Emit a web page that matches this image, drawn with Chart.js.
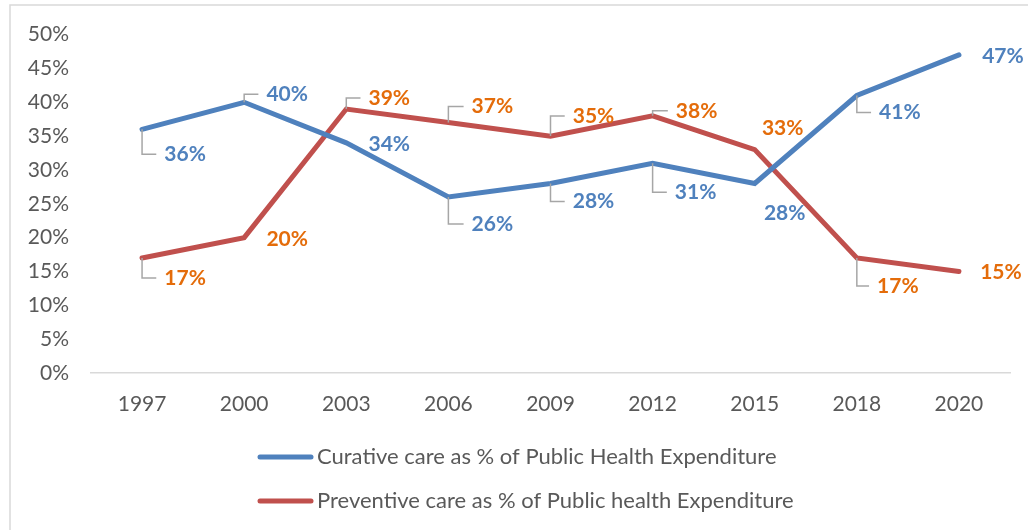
<!DOCTYPE html>
<html>
<head>
<meta charset="utf-8">
<script src="https://cdn.jsdelivr.net/npm/chart.js@4"></script>
<style>
  body { margin: 0; background: #fff; }
  #wrap { width: 1028px; height: 530px; position: relative; }
</style>
</head>
<body>
<div id="wrap"><canvas id="healthChart"></canvas></div>
<script>
// data
const years = ['1997', '2000', '2003', '2006', '2009', '2012', '2015', '2018', '2020'];
const curative = [36, 40, 34, 26, 28, 31, 28, 41, 47];
const preventive = [17, 20, 39, 37, 35, 38, 33, 17, 15];
const yMax = 50;
const yStep = 5;

// label placement relative to the point: [dx, dy, leader line?]
const curativeLabelPos = [[43, 25, 1], [43, -8, 1], [43, 1, 0], [44, 27, 1], [43, 18, 1], [43, 29, 1], [30, 30, 0], [43, 17, 1], [44, 1, 0]];
const preventiveLabelPos = [[43, 20, 1], [43, 2, 0], [43, -11, 1], [44, -16, 1], [43, -20, 1], [44, -5, 1], [28, -21, 0], [41, 28, 1], [42, 1, 0]];

const FONT = "Lato, 'Open Sans', sans-serif";
const GREY_TEXT = '#595959';

// Data labels with leader lines (Excel style)
const labelPlugin = {
    id: 'pointLabels',
    afterDatasetsDraw(chart) {
        const ctx = chart.ctx;
        chart.data.datasets.forEach((ds, i) => {
            const meta = chart.getDatasetMeta(i);
            meta.data.forEach((pt, j) => {
                const [dx, dy, leader] = ds.labelPos[j];
                const txt = ds.data[j] + '%';
                ctx.save();
                ctx.font = 'bold 21px ' + FONT;
                const w = ctx.measureText(txt).width;
                const cx = pt.x + dx;
                const cy = pt.y + dy;
                if (leader) {
                    ctx.strokeStyle = '#a6a6a6';
                    ctx.lineWidth = 1.5;
                    ctx.beginPath();
                    ctx.moveTo(pt.x, pt.y);
                    ctx.lineTo(pt.x, cy);
                    ctx.lineTo(cx - w / 2 - 8, cy);
                    ctx.stroke();
                }
                ctx.fillStyle = ds.labelColor;
                ctx.textAlign = 'center';
                ctx.textBaseline = 'middle';
                ctx.fillText(txt, cx, cy);
                ctx.restore();
            });
        });
    }
};

// legend stacked at the bottom, plus the outer frame
const legendPlugin = {
    id: 'stackLegend',
    afterDraw(chart) {
        const ctx = chart.ctx;
        ctx.save();
        ctx.strokeStyle = '#d9d9d9';
        ctx.lineWidth = 1.5;
        ctx.beginPath();
        ctx.moveTo(10, 530);
        ctx.lineTo(10, 5);
        ctx.lineTo(1028, 5);
        ctx.stroke();

        chart.data.datasets.forEach((ds, i) => {
            const y = 457 + i * 44;
            ctx.strokeStyle = ds.borderColor;
            ctx.lineWidth = 5;
            ctx.lineCap = 'round';
            ctx.beginPath();
            ctx.moveTo(260, y);
            ctx.lineTo(311, y);
            ctx.stroke();
            ctx.fillStyle = GREY_TEXT;
            ctx.font = '22px ' + FONT;
            ctx.textAlign = 'left';
            ctx.textBaseline = 'middle';
            ctx.fillText(ds.label, 317, y);
        });
        ctx.restore();
    }
};

new Chart(document.getElementById('healthChart'), {
    type: 'line',
    data: {
        labels: years,
        datasets: [{
            label: 'Curative care as % of Public Health Expenditure',
            data: curative,
            borderColor: '#4f81bd',
            labelColor: '#4f81bd',
            labelPos: curativeLabelPos,
            borderWidth: 5,
            borderCapStyle: 'round',
            pointRadius: 0,
            tension: 0
        }, {
            label: 'Preventive care as % of Public health Expenditure',
            data: preventive,
            borderColor: '#c0504d',
            labelColor: '#e46c0a',
            labelPos: preventiveLabelPos,
            borderWidth: 5,
            borderCapStyle: 'round',
            pointRadius: 0,
            tension: 0
        }]
    },
    options: {
        responsive: true,
        maintainAspectRatio: false,
        animation: false,
        layout: { padding: { left: 0, right: 18, top: 33, bottom: 97 } },
        plugins: {
            legend: { display: false },
            tooltip: { enabled: false }
        },
        scales: {
            x: {
                offset: true,
                grid: { display: false, drawTicks: false },
                border: { display: true, color: '#d9d9d9', width: 1.5 },
                ticks: { color: GREY_TEXT, font: { family: FONT, size: 21 }, padding: 19 },
                afterFit: (s) => { s.height = 60; }
            },
            y: {
                min: 0,
                max: yMax,
                grid: { display: false, drawTicks: false },
                border: { display: false },
                ticks: {
                    stepSize: yStep,
                    color: GREY_TEXT,
                    font: { family: FONT, size: 21 },
                    padding: 22,
                    callback: (v) => v + '%'
                },
                afterFit: (s) => { s.width = 91; }
            }
        }
    },
    plugins: [labelPlugin, legendPlugin]
});
</script>
</body>
</html>
